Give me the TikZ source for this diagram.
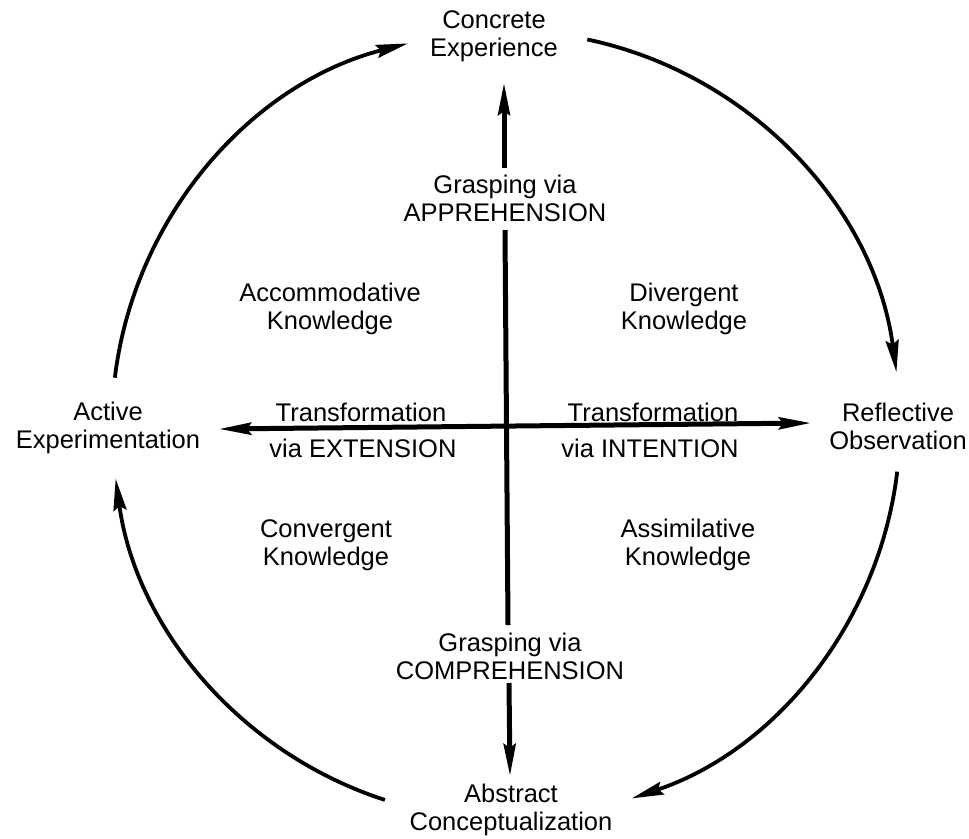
\documentclass[tikz,border=0pt]{standalone}
\usepackage{fontspec}
\setmainfont{Liberation Sans}
\usetikzlibrary{arrows.meta,calc}
\begin{document}
\begin{tikzpicture}[x=1pt,y=1pt,
  lbl/.style={align=center,font=\fontsize{25.5}{28}\selectfont,inner sep=0pt},
  cyc/.style={line width=3.8pt,-{Stealth[length=32pt,width=13pt,inset=4pt]}},
  axis/.style={line width=5pt},
  axarrow/.style={line width=5pt,-{Stealth[length=32pt,width=12pt,inset=4pt]}}]
\useasboundingbox (0,0) rectangle (969,-838);
% circle centre
\coordinate (o) at (506,-425);
% labels
\node[lbl] (ce) at (494,-36) {Concrete\\Experience};
\node[lbl] (ro) at (898,-426) {Reflective\\Observation};
\node[lbl] (ae) at (108,-428) {Active\\Experimentation};
\node[lbl] (ac) at (511,-810) {Abstract\\Conceptualization};
\node[lbl] (appr) at (505,-198) {Grasping via\\APPREHENSION};
\node[lbl] (compr) at (510,-656) {Grasping via\\COMPREHENSION};
\node[lbl] (acc) at (330,-309) {Accommodative\\Knowledge};
\node[lbl] (div) at (684,-309) {Divergent\\Knowledge};
\node[lbl] (conv) at (326,-545) {Convergent\\Knowledge};
\node[lbl] (assim) at (688,-545) {Assimilative\\Knowledge};
\node[lbl] (tl) at (361,-412) {Transformation};
\node[lbl] (el) at (363,-448) {via EXTENSION};
\node[lbl] (tr) at (653,-412) {Transformation};
\node[lbl] (ir) at (650,-448) {via INTENTION};
% axis end points
\coordinate (vtop) at (504,-83);
\coordinate (v1) at (504,-168);
\coordinate (v2) at (505,-230);
\coordinate (v3) at (508,-625);
\coordinate (v4) at (509,-683);
\coordinate (vbot) at (510,-776);
\coordinate (hl) at (219,-429);
\coordinate (hr) at (811,-423);
\draw[axarrow] (v1) -- (vtop);
\draw[axis] (v2) -- (v3);
\draw[axarrow] (v4) -- (vbot);
\draw[line width=5pt,{Stealth[length=32pt,width=12pt,inset=4pt]}-{Stealth[length=32pt,width=12pt,inset=4pt]}] (hl) -- (hr);
% cycle arcs
\coordinate (a1) at ($(o)+(173.1:394)$);
\coordinate (a2) at ($(o)+(78.1:394)$);
\coordinate (a3) at ($(o)+(-6.8:394)$);
\coordinate (a4) at ($(o)+(-107.9:394)$);
\draw[cyc] (a1) arc[start angle=173.1,end angle=104.4,radius=394];
\draw[cyc] (a2) arc[start angle=78.1,end angle=7.7,radius=394];
\draw[cyc] (a3) arc[start angle=-6.8,end angle=-71.4,radius=394];
\draw[cyc] (a4) arc[start angle=-107.9,end angle=-172.2,radius=394];
\end{tikzpicture}
\end{document}
